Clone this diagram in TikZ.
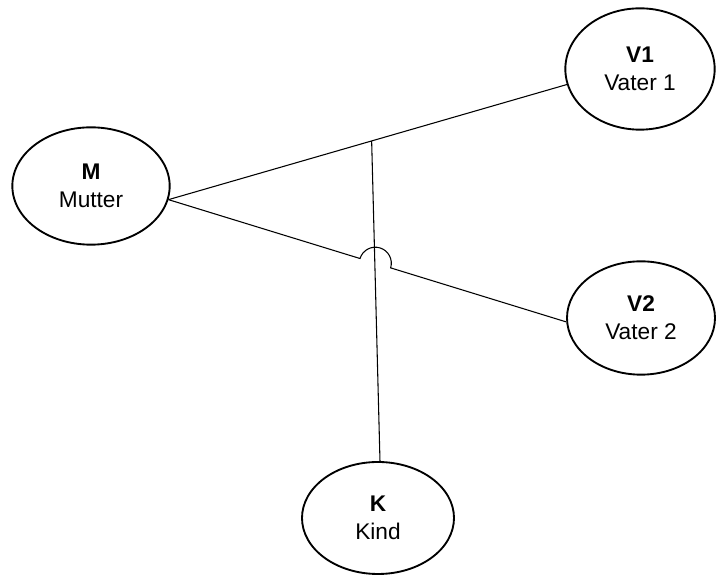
\documentclass[tikz,border=0pt]{standalone}
\usepackage{fontspec}
\setmainfont{Liberation Sans}
\usetikzlibrary{shapes.geometric,calc}
\begin{document}
\begin{tikzpicture}[x=0.75pt,y=0.75pt,
    person/.style={draw,ellipse,line width=1.4pt,align=center,inner sep=0pt,
        font=\fontsize{17}{21}\selectfont},
    link/.style={line width=0.8pt}]
            \useasboundingbox (0,0) rectangle (718,577);
            \node[person,minimum width=118pt,minimum height=88pt] (m) at (91,391) {\textbf{M}\\Mutter};
            \node[person,minimum width=112pt,minimum height=91pt] (v1) at (640,508) {\textbf{V1}\\Vater 1};
            \node[person,minimum width=111pt,minimum height=85pt] (v2) at (641,259) {\textbf{V2}\\Vater 2};
            \node[person,minimum width=114pt,minimum height=84pt] (k) at (378,59) {\textbf{K}\\Kind};
            \coordinate (j) at ($(m.-10)!0.51!(v1.192)$);
            \coordinate (cross) at ($(m.-10)!0.52!(v2.183)$);
            \coordinate (h1) at ($(cross)!12pt!(m.-10)$);
            \draw[link] (m.-10) -- (v1.192);
            \draw[link] (j) -- (k.88);
            \draw[link] (m.-10) -- (h1) arc[start angle=163,end angle=-17,radius=16] -- (v2.183);
\end{tikzpicture}
\end{document}
